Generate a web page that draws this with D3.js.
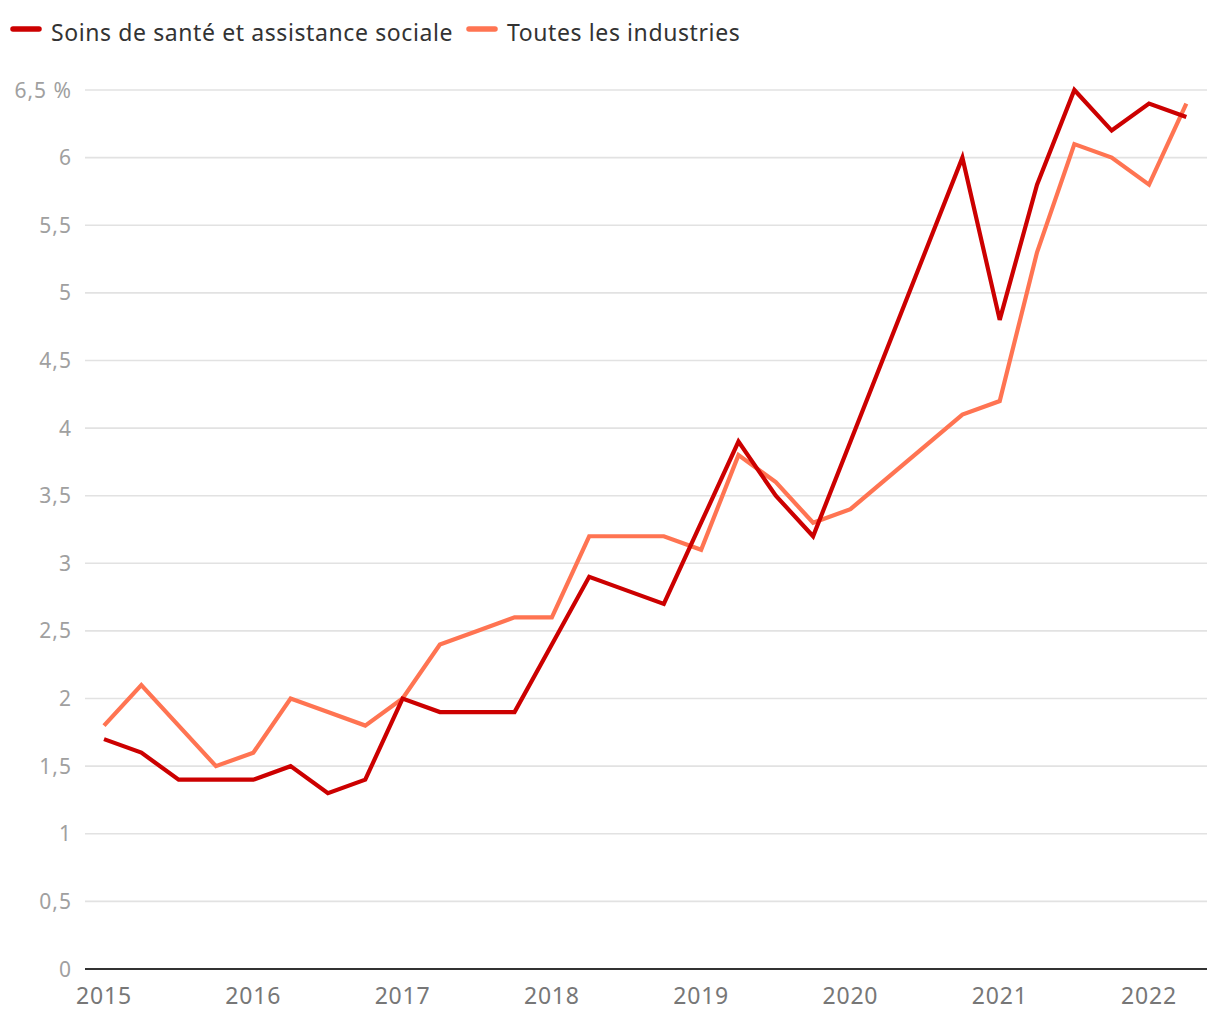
<!DOCTYPE html>
<html><head><meta charset="utf-8">
<script src="https://cdn.jsdelivr.net/npm/d3@7"></script>
<style>
body{margin:0;background:#fff;}
svg{display:block;font-family:"Noto Sans",sans-serif;}
</style></head>
<body><svg id="c" width="1220" height="1020"></svg>
<script>
const quarters = ["2015T1","2015T2","2015T3","2015T4","2016T1","2016T2","2016T3","2016T4","2017T1","2017T2","2017T3","2017T4","2018T1","2018T2","2018T3","2018T4","2019T1","2019T2","2019T3","2019T4","2020T1","2020T2","2020T3","2020T4","2021T1","2021T2","2021T3","2021T4","2022T1","2022T2"];
const sante = [1.7,1.6,1.4,1.4,1.4,1.5,1.3,1.4,2.0,1.9,1.9,1.9,2.4,2.9,2.8,2.7,3.3,3.9,3.5,3.2,null,null,null,6.0,4.8,5.8,6.5,6.2,6.4,6.3];
const toutes = [1.8,2.1,1.8,1.5,1.6,2.0,1.9,1.8,2.0,2.4,2.5,2.6,2.6,3.2,3.2,3.2,3.1,3.8,3.6,3.3,3.4,null,null,4.1,4.2,5.3,6.1,6.0,5.8,6.4];
const yTicks = [0,0.5,1,1.5,2,2.5,3,3.5,4,4.5,5,5.5,6,6.5];
const xTicks = [2015,2016,2017,2018,2019,2020,2021,2022];
const seriesNames = ["Soins de santé et assistance sociale","Toutes les industries"];
const colors = ["#cc0000","#ff7452"];

const svg = d3.select("#c");
const x = d3.scaleLinear().domain([2015,2022]).range([104,1149]);
const y = d3.scaleLinear().domain([0,6.5]).range([969,90]);
const tOf = q => +q.slice(0,4) + (+q.slice(5)-1)*0.25;

// gridlines
svg.append("g").selectAll("line").data(yTicks.filter(d=>d>0)).join("line")
  .attr("x1",85).attr("x2",1207).attr("y1",d=>y(d)).attr("y2",d=>y(d))
  .attr("stroke","#e2e2e2").attr("stroke-width",1.6);

// y labels
svg.append("g").selectAll("text").data(yTicks).join("text")
  .attr("x",72).attr("y",d=>y(d)).attr("dy","0.36em").attr("text-anchor","end")
  .attr("fill","#a0a0a0").attr("font-size",21).attr("letter-spacing",1)
  .text(d=> (d===6.5 ? "6,5 %" : String(d).replace(".",",")));

// x axis
svg.append("line").attr("x1",85).attr("x2",1207).attr("y1",y(0)).attr("y2",y(0))
  .attr("stroke","#333").attr("stroke-width",2);
svg.append("g").selectAll("text").data(xTicks).join("text")
  .attr("x",d=>x(d)).attr("y",1004).attr("text-anchor","middle")
  .attr("fill","#777").attr("font-size",23).attr("letter-spacing",0.8).text(d=>d);

// lines
const line = d3.line().defined(d=>d.v!==null).x(d=>x(d.t)).y(d=>y(d.v));
[toutes, sante].forEach((arr,i)=>{
  const pts = quarters.map((q,j)=>({t:tOf(q),v:arr[j]})).filter(d=>d.v!==null);
  svg.append("path").datum(pts).attr("d",line).attr("fill","none")
    .attr("stroke", i===0?colors[1]:colors[0]).attr("stroke-width",4.2)
    .attr("stroke-linejoin","miter").attr("stroke-linecap","butt");
});

// legend
const lg = svg.append("g");
const lx = [10,466];
seriesNames.forEach((n,i)=>{
  lg.append("line").attr("x1",lx[i]+3).attr("x2",lx[i]+29).attr("y1",29).attr("y2",29)
    .attr("stroke",colors[i]).attr("stroke-width",5.5).attr("stroke-linecap","round");
  lg.append("text").attr("x",lx[i]+41).attr("y",41).attr("fill","#333").attr("font-size",23)
    .attr("letter-spacing",0.6).text(n);
});
</script></body></html>
